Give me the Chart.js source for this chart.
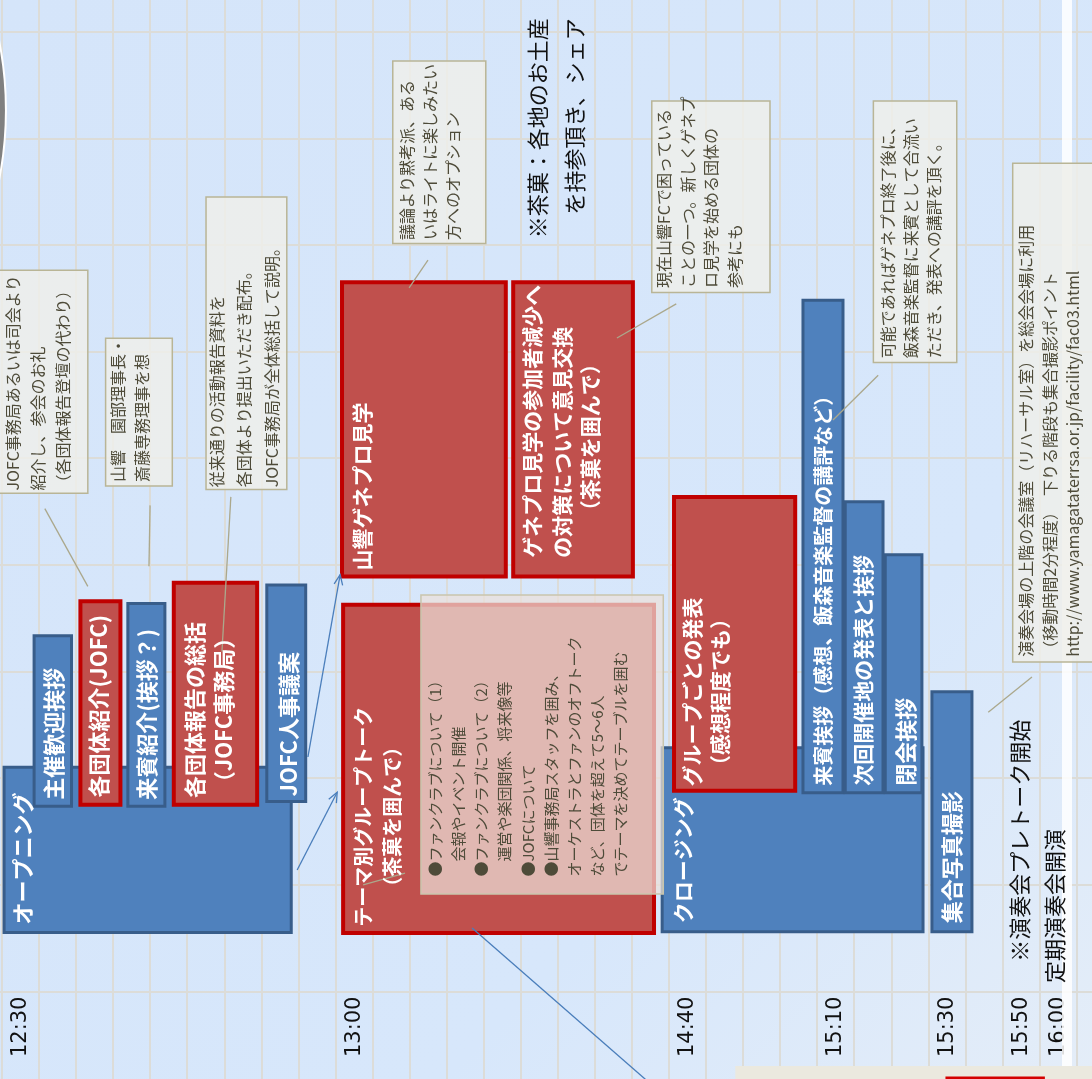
<!DOCTYPE html>
<html>
<head>
<meta charset="utf-8">
<title>総会 当日の進行</title>
<script src="https://cdn.jsdelivr.net/npm/chart.js@4.4.1/dist/chart.umd.min.js"></script>
<style>
  html, body { margin: 0; padding: 0; background: #d7e6fa; }
  canvas { display: block; }
</style>
</head>
<body>
<canvas id="plan" width="1092" height="1079"></canvas>
<script>
// 単位: x = 列（時刻のます）、y = 行
const xMin = -0.06, xMax = 29.41;
const yMin = -0.82, yMax = 9.3;

// 時刻の目盛（列の中央）
const timeCols = [0.5, 9.5, 18.5, 22.5, 25.5, 27.5, 28.5];
const timeLabels = ['12:30', '13:00', '14:40', '15:10', '15:30', '15:50', '16:00'];

// 青い枠 [x0, x1, y0, y1]
const blueBoxes = [
  [0.05, 7.80, 0.555, 2.105],   // オープニング
  [17.81, 24.85, 0.56, 2.286],  // クロージング
  [0.86, 1.87, 1.738, 3.337],   // 主催歓迎挨拶
  [3.39, 4.39, 1.738, 3.640],   // 来賓紹介
  [7.14, 8.19, 1.782, 3.813],   // JOFC人事議案
  [21.61, 22.69, 1.864, 6.485], // 来賓挨拶
  [22.75, 23.77, 1.864, 4.593], // 次回開催地
  [23.83, 24.82, 1.864, 4.096], // 閉会挨拶
  [25.09, 26.17, 0.56, 2.811]   // 集合写真撮影
];

// 赤い枠
const redBoxes = [
  [2.11, 3.19, 1.753, 3.660],   // 各団体紹介
  [4.63, 6.88, 1.753, 3.834],   // 各団体報告の総括
  [9.20, 17.59, 0.550, 3.628],  // テーマ別グループトーク
  [9.17, 13.59, 3.894, 6.653],  // 山響ゲネプロ見学
  [13.79, 17.02, 3.894, 6.653], // 参加者減少への対策
  [18.13, 21.40, 1.883, 4.639]  // グループごとの発表
];

// メモ枠
const noteBoxes = [
  [-0.40, 2.31, 4.673, 6.766],
  [2.79, 4.59, 4.741, 6.128],
  [5.50, 7.68, 4.710, 7.453],
  [10.54, 13.05, 7.016, 8.728],
  [17.53, 20.72, 6.557, 8.353],
  [23.51, 25.76, 5.900, 8.353],
  [27.27, 29.70, 3.091, 7.768]
];
const memoBox = [11.30, 17.84, 0.916, 3.719];

// 下端の帯と右端の白い筋
const stripBox = [19.78, 29.5, -0.83, -0.697];
const stripRed = [25.45, 28.14, -0.83, -0.797];
const whiteBand = [28.60, 28.87, -0.9, 9.4];

// 引き出し線 [x0, y0, x1, y1]
const noteLines = [
  [1.15, 4.53, 2.31, 3.80],
  [3.99, 4.56, 3.96, 3.99],
  [6.17, 4.64, 5.93, 3.19],
  [11.49, 6.86, 10.98, 6.60],
  [18.19, 6.45, 16.59, 6.13],
  [23.64, 5.78, 22.42, 5.36],
  [27.79, 2.95, 26.61, 2.62],
  [9.74, 1.00, 10.87, 1.11]
];
// 矢印
const arrowLines = [
  [8.25, 2.20, 9.12, 3.91],
  [7.96, 1.14, 9.04, 1.87]
];
const longLine = [12.68, 0.597, 18.83, -1.27];

// 左上の灰色の円
const circlePoint = [{x: -9.48, y: 8.265}];

const FONT = '"Noto Sans CJK JP", "Noto Sans", sans-serif';
const noteColor = '#4e4b39';

const labels = [
  {lines: ['オープニング'], x: 0.56, y: 0.63, size: 22, bold: true, color: '#fff'},
  {lines: ['主催歓迎挨拶'], x: 1.40, y: 1.80, size: 22, bold: true, color: '#fff'},
  {lines: ['各団体紹介(JOFC)'], x: 2.61, y: 1.82, size: 22, bold: true, color: '#fff'},
  {lines: ['来賓紹介(挨拶？)'], x: 3.91, y: 1.80, size: 22, bold: true, color: '#fff'},
  {lines: ['各団体報告の総括', '（JOFC事務局）'], x: 5.18, y: 2.64, size: 22, bold: true, color: '#fff', align: 'center', lh: 29},
  {lines: ['JOFC人事議案'], x: 7.74, y: 1.83, size: 22, bold: true, color: '#fff'},
  {lines: ['テーマ別グループトーク', '（茶菓を囲んで）'], x: 9.74, y: 1.64, size: 20, bold: true, color: '#fff', align: 'center', lh: 29},
  {lines: ['山響ゲネプロ見学'], x: 9.71, y: 3.95, size: 21, bold: true, color: '#fff'},
  {lines: ['ゲネプロ見学の参加者減少へ', 'の対策について意見交換'], x: 14.30, y: 4.07, size: 21, bold: true, color: '#fff', lh: 30},
  {lines: ['（茶菓を囲んで）'], x: 15.86, y: 5.20, size: 21, bold: true, color: '#fff', align: 'center'},
  {lines: ['グループごとの発表', '（感想程度でも）'], x: 18.62, y: 2.81, size: 21, bold: true, color: '#fff', align: 'center', lh: 28},
  {lines: ['クロージング'], x: 18.37, y: 0.64, size: 21, bold: true, color: '#fff'},
  {lines: ['来賓挨拶（感想、飯森音楽監督の講評など）'], x: 22.15, y: 1.93, size: 20, bold: true, color: '#fff'},
  {lines: ['次回開催地の発表と挨拶'], x: 23.23, y: 1.93, size: 21, bold: true, color: '#fff'},
  {lines: ['閉会挨拶'], x: 24.37, y: 1.93, size: 22, bold: true, color: '#fff'},
  {lines: ['集合写真撮影'], x: 25.63, y: 0.64, size: 22, bold: true, color: '#fff'},

  {lines: ['JOFC事務局あるいは司会より', '紹介し、参会のお礼', '（各団体報告登壇の代わり）'], x: 0.28, y: 4.70, size: 16, color: noteColor, lh: 25},
  {lines: ['山響　園部理事長・', '斎藤専務理事を想'], x: 3.12, y: 4.78, size: 16, color: noteColor, lh: 23.7},
  {lines: ['従来通りの活動報告資料を', '各団体より提出いただき配布。', 'JOFC事務局が全体総括して説明。'], x: 5.79, y: 4.73, size: 16, color: noteColor, lh: 27.5},
  {lines: ['議論より黙考派、ある', 'いはライトに楽しみたい', '方へのオプション'], x: 10.93, y: 7.05, size: 16, color: noteColor, lh: 23},
  {lines: ['現在山響FCで困っている', 'ことの一つ。新しくゲネプ', 'ロ見学を始める団体の', '参考にも'], x: 17.86, y: 6.60, size: 16, color: noteColor, lh: 23.7},
  {lines: ['可能であればゲネプロ終了後に、', '飯森音楽監督に来賓として合流い', 'ただき、発表への講評を頂く。'], x: 23.91, y: 5.94, size: 16, color: noteColor, lh: 23},
  {lines: ['演奏会場の上階の会議室（リハーサル室）を総会会場に利用', '（移動時間2分程度）　下りる階段も集合撮影ポイント', 'http://www.yamagataterrsa.or.jp/facility/fac03.html'], x: 27.63, y: 3.14, size: 16, color: noteColor, lh: 23.5},
  {lines: ['●ファンクラブについて（1）', '　会報やイベント開催', '●ファンクラブについて（2）', '　運営や楽団関係、将来像等', '●JOFCについて', '●山響事務局スタッフを囲み、', 'オーケストラとファンのオフトーク', 'など、団体を超えて5～6人', 'でテーマを決めてテーブルを囲む'], x: 11.68, y: 1.08, size: 15, color: noteColor, lh: 23.2},

  {lines: ['※茶菓：各地のお土産', 'を持参頂き、シェア'], x: 14.46, y: 9.13, size: 22, color: '#111', align: 'right', lh: 37},
  {lines: ['※演奏会プレトーク開始'], x: 27.47, y: 0.28, size: 22, color: '#111'},
  {lines: ['定期演奏会開演'], x: 28.41, y: 0.08, size: 22, color: '#111'}
];

const datasets = [];

function addBox(box, fill, border, width) {
  const [x0, x1, y0, y1] = box;
  datasets.push({
    data: [{x: x0, y: y1}, {x: x1, y: y1}],
    fill: {value: y0},
    backgroundColor: fill,
    borderColor: 'transparent',
    borderWidth: 0,
    pointRadius: 0
  });
  if (width > 0) {
    datasets.push({
      data: [{x: x0, y: y0}, {x: x0, y: y1}, {x: x1, y: y1}, {x: x1, y: y0}, {x: x0, y: y0}],
      fill: false,
      borderColor: border,
      borderWidth: width,
      borderJoinStyle: 'miter',
      borderCapStyle: 'square',
      pointRadius: 0
    });
  }
}

function addLine(seg, color, width, head) {
  const [x0, y0, x1, y1] = seg;
  datasets.push({
    data: [{x: x0, y: y0}, {x: x1, y: y1}],
    fill: false,
    borderColor: color,
    borderWidth: width,
    pointRadius: 0,
    arrowHead: head
  });
}

addBox(whiteBand, 'rgba(255,255,255,0.85)', null, 0);
addBox(stripBox, '#ebe9df', null, 0);
addBox(stripRed, '#d40000', null, 0);
datasets.push({
  type: 'scatter',
  data: circlePoint,
  pointRadius: 355,
  backgroundColor: '#808080',
  borderColor: '#ffffff',
  borderWidth: 2,
  clip: false
});
blueBoxes.forEach(b => addBox(b, '#4f81bd', '#385d8a', 3));
redBoxes.forEach(b => addBox(b, '#c0504d', '#c00000', 4));
noteBoxes.forEach(b => addBox(b, 'rgba(238,238,234,0.85)', '#b9b596', 1.5));
noteLines.forEach(l => addLine(l, '#aba88c', 1.3, false));
arrowLines.forEach(l => addLine(l, '#4a7ebb', 1.3, true));
addLine(longLine, '#4a7ebb', 1.3, false);
addBox(memoBox, 'rgba(236,224,218,0.72)', '#c9c5ad', 1.5);

// 後から足したものほど上に描く
datasets.forEach((d, i) => { d.order = datasets.length - i; });

const bgPlugin = {
  id: 'bg',
  beforeDraw(chart) {
    const {ctx, width, height} = chart;
    const g = ctx.createLinearGradient(0, 0, width, height);
    g.addColorStop(0, '#d5e5fa');
    g.addColorStop(0.7, '#d7e7fb');
    g.addColorStop(1, '#e4edf8');
    ctx.save();
    ctx.fillStyle = g;
    ctx.fillRect(0, 0, width, height);
    ctx.restore();
  }
};

const arrowPlugin = {
  id: 'arrows',
  afterDatasetsDraw(chart) {
    const ctx = chart.ctx;
    chart.data.datasets.forEach((ds, i) => {
      if (!ds.arrowHead) return;
      const pts = chart.getDatasetMeta(i).data;
      const a = pts[pts.length - 2], b = pts[pts.length - 1];
      const ang = Math.atan2(b.y - a.y, b.x - a.x);
      ctx.save();
      ctx.strokeStyle = ds.borderColor;
      ctx.lineWidth = 1.3;
      ctx.beginPath();
      ctx.moveTo(b.x - 11 * Math.cos(ang - 0.4), b.y - 11 * Math.sin(ang - 0.4));
      ctx.lineTo(b.x, b.y);
      ctx.lineTo(b.x - 11 * Math.cos(ang + 0.4), b.y - 11 * Math.sin(ang + 0.4));
      ctx.stroke();
      ctx.restore();
    });
  }
};

const textPlugin = {
  id: 'rotText',
  afterDatasetsDraw(chart) {
    const {ctx, scales: {x, y}} = chart;
    labels.forEach(t => {
      ctx.save();
      ctx.translate(x.getPixelForValue(t.x), y.getPixelForValue(t.y));
      ctx.rotate(-Math.PI / 2);
      ctx.font = (t.bold ? 'bold ' : '') + t.size + 'px ' + FONT;
      ctx.fillStyle = t.color;
      ctx.textAlign = t.align || 'left';
      ctx.textBaseline = 'middle';
      t.lines.forEach((s, i) => ctx.fillText(s, 0, i * (t.lh || 0)));
      ctx.restore();
    });
  }
};

const gridColor = '#dcdcd8';
const gridCols = Array.from({length: 30}, (_, i) => i);
const gridRows = Array.from({length: 10}, (_, i) => i);

new Chart(document.getElementById('plan'), {
  type: 'line',
  data: {datasets: datasets},
  options: {
    responsive: false,
    animation: false,
    events: [],
    layout: {padding: 0, autoPadding: false},
    plugins: {legend: {display: false}, tooltip: {enabled: false}},
    elements: {line: {tension: 0}},
    scales: {
      x: {
        type: 'linear', min: xMin, max: xMax, position: 'bottom',
        grid: {color: gridColor, lineWidth: 2, drawTicks: false},
        border: {display: false},
        ticks: {display: false},
        afterBuildTicks: s => { s.ticks = gridCols.map(v => ({value: v})); }
      },
      y: {
        type: 'linear', min: yMin, max: yMax, position: 'left', stacked: false,
        grid: {color: gridColor, lineWidth: 2, drawTicks: false},
        border: {display: false},
        ticks: {display: false},
        afterBuildTicks: s => { s.ticks = gridRows.map(v => ({value: v})); }
      },
      time: {
        type: 'linear', axis: 'x', min: xMin, max: xMax, position: {y: 0},
        grid: {display: false, drawTicks: false},
        border: {display: false},
        afterBuildTicks: s => { s.ticks = timeCols.map(v => ({value: v})); },
        afterFit: s => { s.height = 0; s.paddingLeft = 0; s.paddingRight = 0; },
        ticks: {
          autoSkip: false, minRotation: 90, maxRotation: 90, padding: 5,
          color: '#111', font: {family: 'DejaVu Sans', size: 21},
          callback: v => timeLabels[timeCols.indexOf(v)]
        }
      }
    }
  },
  plugins: [bgPlugin, arrowPlugin, textPlugin]
});
</script>
</body>
</html>
